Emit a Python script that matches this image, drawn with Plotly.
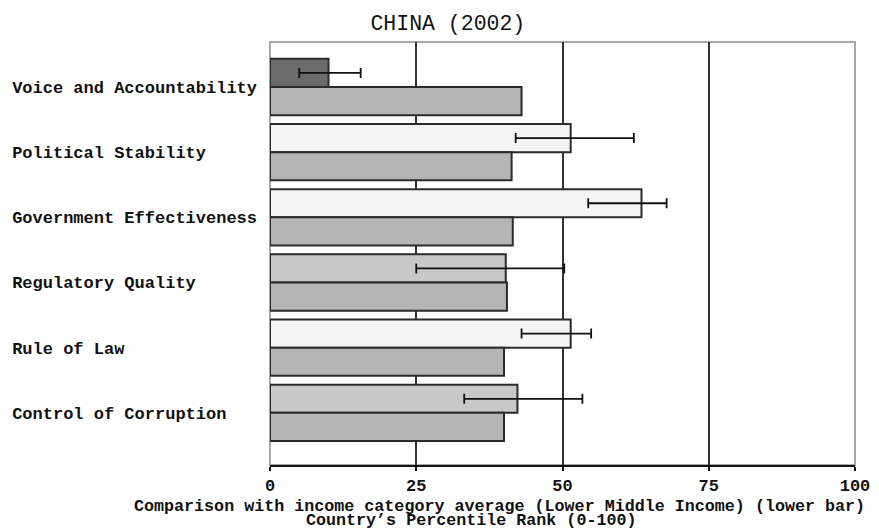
import plotly.graph_objects as go

# ---- data ----
indicators = ["Voice and Accountability", "Political Stability", "Government Effectiveness",
              "Regulatory Quality", "Rule of Law", "Control of Corruption"]
country_rank = [10.0, 51.4, 63.5, 40.3, 51.4, 42.3]
ci_low = [5.0, 42.0, 54.4, 25.0, 43.0, 33.2]
ci_high = [15.5, 62.2, 67.8, 50.3, 54.9, 53.4]
income_avg = [43.0, 41.3, 41.5, 40.5, 40.0, 40.0]
x_ticks = [0, 25, 50, 75, 100]

# ---- styles ----
upper_colors = ["#6b6b6b", "#f4f4f4", "#f4f4f4", "#c8c8c8", "#f4f4f4", "#c8c8c8"]
lower_color = "#b5b5b5"
outline = "#2b2b2b"
mono = "Liberation Mono"

pad = max(len(s) for s in indicators)
tick_text = [s + "\u00a0" * (pad - len(s)) for s in indicators]

err_plus = [h - v for h, v in zip(ci_high, country_rank)]
err_minus = [v - l for v, l in zip(country_rank, ci_low)]

fig = go.Figure()
fig.add_trace(go.Bar(
    y=indicators, x=country_rank, orientation="h",
    marker=dict(color=upper_colors, line=dict(color=outline, width=2)),
    error_x=dict(type="data", symmetric=False, array=err_plus, arrayminus=err_minus,
                 color="#111111", thickness=1.8, width=5),
    showlegend=False, hoverinfo="x+y",
))
fig.add_trace(go.Bar(
    y=indicators, x=income_avg, orientation="h",
    marker=dict(color=lower_color, line=dict(color=outline, width=2)),
    showlegend=False, hoverinfo="x+y",
))

# the page body adds an 8px margin, so the figure is drawn 8px smaller
fig.update_layout(
    width=871, height=521,
    margin=dict(l=262, r=24, t=34, b=64, autoexpand=False),
    paper_bgcolor="white", plot_bgcolor="white",
    barmode="group", bargap=0.136, bargroupgap=0,
    title=dict(text="CHINA (2002)", x=0.505, xanchor="center", y=0.973, yanchor="middle",
               font=dict(family=mono, size=21.5, color="#111111")),
    xaxis=dict(range=[0, 100], tickvals=x_ticks, ticktext=[str(t) for t in x_ticks],
               showgrid=True, gridcolor="#333333", gridwidth=1.5, zeroline=False,
               showline=True, linecolor="#111111", linewidth=1.5,
               ticks="outside", ticklen=4, tickcolor="#111111", tickwidth=1.5,
               tickfont=dict(family=mono, size=17, color="#111111", weight="bold"),
               automargin=False, fixedrange=True),
    yaxis=dict(categoryorder="array", categoryarray=indicators,
               range=[5.80, -0.69], tickvals=indicators, ticktext=tick_text,
               showgrid=False, zeroline=False, showline=False, ticks="",
               ticklabelstandoff=12, automargin=False,
               tickfont=dict(family=mono, size=17, color="#111111", weight="bold"),
               fixedrange=True),
    shapes=[dict(type="rect", xref="x domain", yref="y domain", x0=0, x1=1, y0=0, y1=1,
                 line=dict(color="#a8a8a8", width=2), layer="below")],
    annotations=[
        dict(text="Comparison with income category average (Lower Middle Income) (lower bar)",
             xref="paper", yref="paper", x=0.393, y=-0.099, xanchor="center", yanchor="middle",
             showarrow=False, font=dict(family=mono, size=16.7, color="#111111", weight="bold")),
        dict(text="Country\u2019s Percentile Rank (0-100)",
             xref="paper", yref="paper", x=0.344, y=-0.132, xanchor="center", yanchor="middle",
             showarrow=False, font=dict(family=mono, size=16.7, color="#111111", weight="bold")),
    ],
)

fig.write_html("out.html")
